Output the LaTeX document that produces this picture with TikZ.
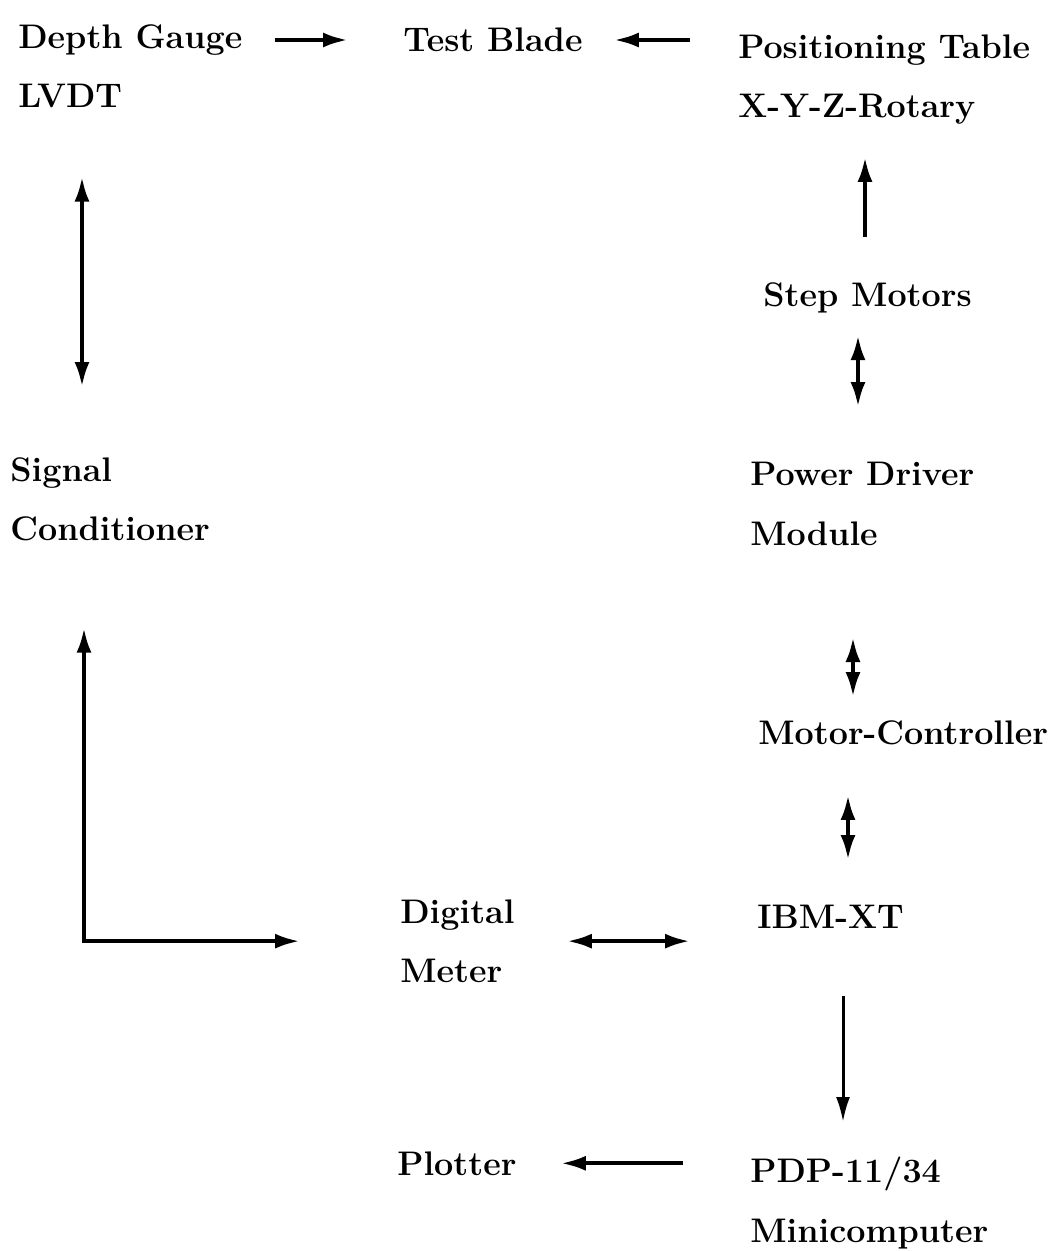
\documentclass[tikz,border=0pt]{standalone}
\usepackage{fontspec}
\usepackage{tikz}
\usetikzlibrary{arrows.meta, calc}
\tikzset{
  device/.style={anchor=north west, inner sep=0pt, align=left,
    font=\fontsize{19.4}{34}\selectfont\bfseries},
  flowarrow/.style={-{Latex[length=5mm,width=3mm]}, line width=2.4pt},
  thinarrow/.style={-{Latex[length=5mm,width=2.8mm]}, line width=1.7pt},
  dblarrow/.style={{Latex[length=5mm,width=3mm]}-{Latex[length=5mm,width=3mm]}, line width=2.4pt}
}

\begin{document}
\begin{tikzpicture}[x=0.02cm, y=-0.02cm]
  \useasboundingbox (0,0) rectangle (1057,1251);

  % components
  \node[device] (dg)  at (18,24)    {Depth Gauge\\LVDT};
  \node[device] (tb)  at (403,27)   {Test Blade};
  \node[device] (pt)  at (738,34)   {Positioning Table\\X-Y-Z-Rotary};
  \node[device] (sm)  at (763,282)  {Step Motors};
  \node[device] (sc)  at (10,457)   {Signal\\Conditioner};
  \node[device] (pd)  at (750,462)  {Power Driver\\Module};
  \node[device] (mc)  at (758,720)  {Motor-Controller};
  \node[device] (dm)  at (400,899)  {Digital\\Meter};
  \node[device] (ibm) at (757,905)  {IBM-XT};
  \node[device] (pl)  at (397,1151) {Plotter};
  \node[device] (pdp) at (750,1157) {PDP-11/34\\Minicomputer};

  % connectors
  \draw[flowarrow] ($(dg.north east)+(32,16)$) -- ($(tb.north west)+(-55,13)$);
  \draw[flowarrow] ($(pt.north west)+(-48,6)$) -- ($(tb.north east)+(31,13)$);
  \draw[dblarrow] ($(dg.south west)+(64,68)$) -- ($(sc.north west)+(72,-70)$);
  \draw[flowarrow] ($(sm.north west)+(102,-45)$) -- ($(pt.south west)+(127,32)$);
  \draw[dblarrow] ($(sm.south west)+(95,22)$) -- ($(pd.north west)+(108,-55)$);
  \draw[dblarrow] ($(pd.south west)+(103,91)$) -- ($(mc.north west)+(95,-23)$);
  \draw[dblarrow] ($(mc.south west)+(90,50)$) -- ($(ibm.north west)+(91,-45)$);
  \draw[dblarrow] ($(sc.south west)+(74,86)$) |- ($(dm.west)+(-100,0)$);
  \draw[dblarrow] ($(dm.east)+(52,0)$) -- ($(dm.east -| ibm.west)+(-67,0)$);
  \draw[thinarrow] ($(ibm.south west)+(86,67)$) -- ($(pdp.north west)+(93,-35)$);
  \draw[flowarrow] ($(pl.east -| pdp.west)+(-67,0)$) -- ($(pl.east)+(44,0)$);
\end{tikzpicture}
\end{document}
